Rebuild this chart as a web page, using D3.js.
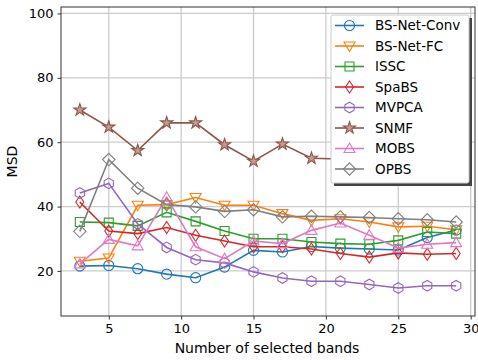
<!DOCTYPE html>
<html>
<head>
<meta charset="utf-8">
<script src="https://cdn.jsdelivr.net/npm/d3@7"></script>
<style>
  body { margin: 0; background: #fff; }
  text { font-family: "DejaVu Sans", sans-serif; fill: #000; }
</style>
</head>
<body>
<div id="chart"></div>
<script>
// band counts on the x axis
var bands = [3, 5, 7, 9, 11, 13, 15, 17, 19, 21, 23, 25, 27, 29];

// MSD per method
var bsNetConv = [21.5, 21.7, 20.7, 19.0, 17.9, 21.2, 26.4, 25.9, 27.6, 27.1, 26.8, 26.5, 30.4, 32.7];
var bsNetFC   = [23.0, 24.0, 40.4, 40.6, 42.8, 40.4, 40.4, 37.8, 35.7, 36.2, 35.2, 33.7, 33.9, 32.8];
var issc      = [35.2, 35.0, 34.0, 38.2, 35.4, 32.4, 30.0, 30.0, 29.0, 28.5, 28.3, 29.5, 32.1, 31.6];
var spabs     = [41.4, 32.4, 31.6, 33.5, 31.1, 29.3, 27.5, 27.5, 26.8, 25.4, 24.3, 25.6, 25.2, 25.4];
var mvpca     = [44.2, 47.2, 34.6, 27.3, 23.5, 22.5, 19.7, 17.8, 16.8, 16.8, 15.8, 14.7, 15.4, 15.4];
var snmf      = [70.0, 64.7, 57.4, 66.0, 66.0, 59.2, 54.1, 59.4, 55.0, 54.8, 55.6, 54.5, 55.2, 54.6];
var mobs      = [22.2, 29.8, 27.8, 42.9, 27.5, 23.8, 29.3, 28.5, 32.6, 34.9, 31.1, 27.1, 28.3, 28.8];
var opbs      = [32.3, 54.6, 45.7, 40.6, 39.9, 38.5, 39.0, 36.8, 37.0, 36.8, 36.6, 36.2, 35.9, 35.2];

var xTicks = [5, 10, 15, 20, 25, 30];
var yTicks = [20, 40, 60, 80, 100];

var series = [
  {name: "BS-Net-Conv", values: bsNetConv, color: "#1f77b4", marker: "circle"},
  {name: "BS-Net-FC",   values: bsNetFC,   color: "#ff7f0e", marker: "tridown"},
  {name: "ISSC",        values: issc,      color: "#2ca02c", marker: "square"},
  {name: "SpaBS",       values: spabs,     color: "#d62728", marker: "thindiamond"},
  {name: "MVPCA",       values: mvpca,     color: "#9467bd", marker: "hexagon"},
  {name: "SNMF",        values: snmf,      color: "#8c564b", marker: "star"},
  {name: "MOBS",        values: mobs,      color: "#e377c2", marker: "triup"},
  {name: "OPBS",        values: opbs,      color: "#7f7f7f", marker: "diamond"}
];

var W = 478, H = 360;
var margin = {top: 7, right: 3, bottom: 44, left: 61},
    width = W - margin.left - margin.right,
    height = H - margin.top - margin.bottom;

var svg = d3.select("#chart").append("svg")
  .attr("width", W).attr("height", H);

var g = svg.append("g")
  .attr("transform", "translate(" + margin.left + "," + margin.top + ")");

var x = d3.scaleLinear().domain([1.7, 30.3]).range([0, width]);
var y = d3.scaleLinear().domain([6, 102]).range([height, 0]);

// grid
g.append("g").selectAll("line").data(xTicks).enter().append("line")
  .attr("x1", function(d) { return x(d); }).attr("x2", function(d) { return x(d); })
  .attr("y1", 0).attr("y2", height)
  .style("stroke", "#cccccc").style("stroke-width", 1.3);
g.append("g").selectAll("line").data(yTicks).enter().append("line")
  .attr("y1", function(d) { return y(d); }).attr("y2", function(d) { return y(d); })
  .attr("x1", 0).attr("x2", width)
  .style("stroke", "#cccccc").style("stroke-width", 1.3);

// axes
var xAxis = g.append("g")
  .attr("transform", "translate(0," + height + ")")
  .call(d3.axisBottom(x).tickValues(xTicks).tickSize(3.5).tickPadding(4));
var yAxis = g.append("g")
  .call(d3.axisLeft(y).tickValues(yTicks).tickSize(3.5).tickPadding(4));
[xAxis, yAxis].forEach(function(a) {
  a.select(".domain").remove();
  a.selectAll("text").style("font-size", "13px").style("font-family", "DejaVu Sans");
  a.selectAll("line").style("stroke", "#333");
});

// marker symbols
function markerPath(type, s) {
  switch (type) {
    case "circle": return d3.symbol(d3.symbolCircle, 80)();
    case "square": return "M-4.5,-4.5H4.5V4.5H-4.5Z";
    case "triup": return "M0,-5.5L5.5,4L-5.5,4Z";
    case "tridown": return "M0,5.5L5.5,-4L-5.5,-4Z";
    case "diamond": return "M0,-6.2L6.2,0L0,6.2L-6.2,0Z";
    case "thindiamond": return "M0,-6L4,0L0,6L-4,0Z";
    case "star": return d3.symbol(d3.symbolStar, 45)();
    case "hexagon":
      var pts = d3.range(6).map(function(i) {
        var a = Math.PI / 6 + i * Math.PI / 3;
        return [5.3 * Math.cos(a), 5.3 * Math.sin(a)];
      });
      return "M" + pts.join("L") + "Z";
  }
}

var line = d3.line()
  .x(function(d, i) { return x(bands[i]); })
  .y(function(d) { return y(d); });

var plot = g.append("g");
series.forEach(function(s) {
  plot.append("path").datum(s.values)
    .attr("d", line)
    .style("fill", "none").style("stroke", s.color).style("stroke-width", 1.6);
  plot.selectAll(null).data(s.values).enter().append("path")
    .attr("transform", function(d, i) { return "translate(" + x(bands[i]) + "," + y(d) + ")"; })
    .attr("d", markerPath(s.marker))
    .style("fill", s.marker == "star" ? "#c49a92" : "none")
    .style("stroke", s.color).style("stroke-width", 1.1);
});

// frame
g.append("rect").attr("width", width).attr("height", height)
  .style("fill", "none").style("stroke", "#333").style("stroke-width", 1);

// axis labels
svg.append("text")
  .attr("x", margin.left + width / 2 - 1).attr("y", H - 7)
  .attr("text-anchor", "middle").style("font-size", "14px")
  .text("Number of selected bands");
svg.append("text")
  .attr("transform", "translate(17," + (margin.top + height / 2) + ") rotate(-90)")
  .attr("text-anchor", "middle").style("font-size", "14px")
  .text("MSD");

// legend
var lx = 331, ly = 15, lw = 138, lh = 168;
svg.append("rect").attr("x", lx + 3).attr("y", ly + 3).attr("width", lw).attr("height", lh)
  .style("fill", "#444");
svg.append("rect").attr("x", lx).attr("y", ly).attr("width", lw).attr("height", lh)
  .attr("rx", 2).style("fill", "#fff").style("stroke", "#ccc").style("stroke-width", 1);
var leg = svg.append("g").selectAll("g").data(series).enter().append("g")
  .attr("transform", function(d, i) { return "translate(" + (lx + 4) + "," + (ly + 10.5 + i * 20.5) + ")"; });
leg.append("line").attr("x1", 0).attr("x2", 29)
  .style("stroke", function(d) { return d.color; }).style("stroke-width", 1.6);
leg.append("path")
  .attr("transform", "translate(14.5,0)")
  .attr("d", function(d) { return markerPath(d.marker); })
  .style("fill", function(d) { return d.marker == "star" ? "#c49a92" : "none"; })
  .style("stroke", function(d) { return d.color; }).style("stroke-width", 1.1);
leg.append("text").attr("x", 40).attr("dy", "0.35em")
  .style("font-size", "13.5px")
  .text(function(d) { return d.name; });
</script>
</body>
</html>
